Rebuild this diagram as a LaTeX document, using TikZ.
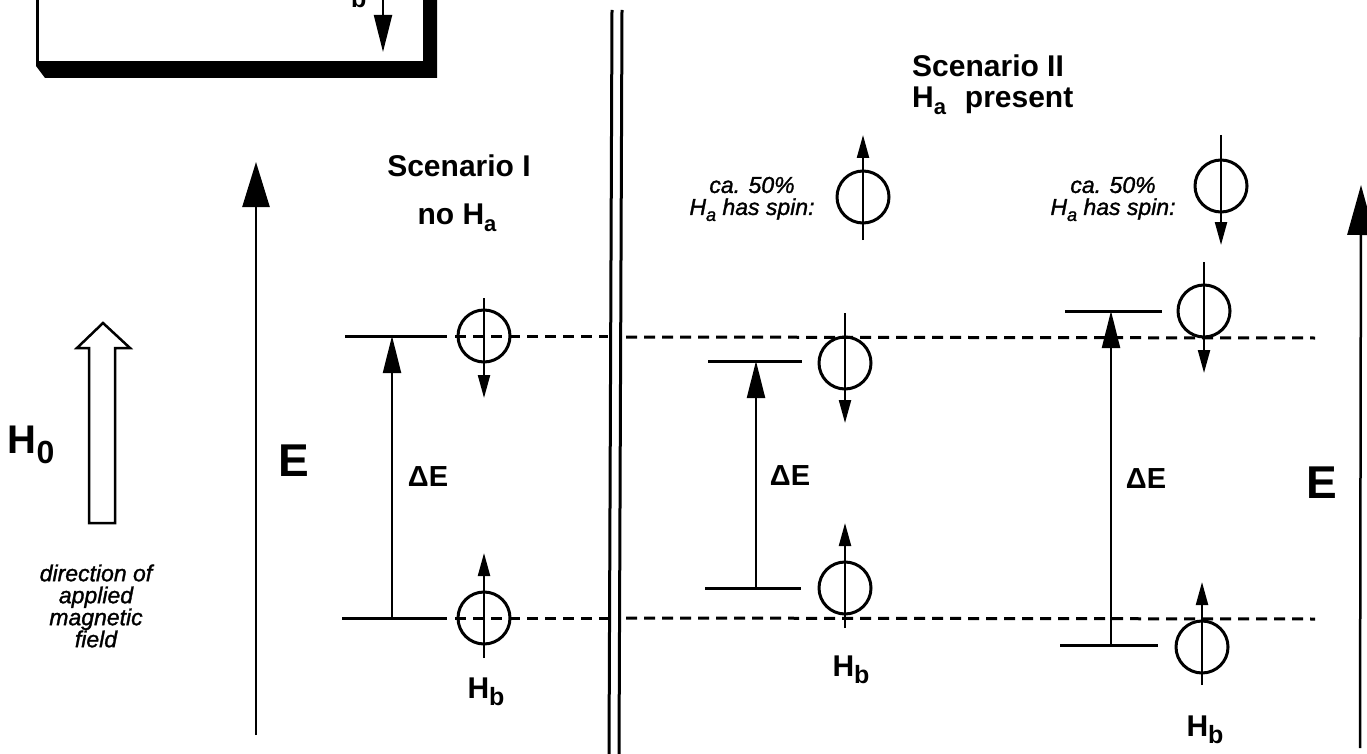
\documentclass[tikz,border=0pt]{standalone}
\usepackage{fontspec}
\setmainfont{Liberation Sans}
\newfontfamily\noteit{Liberation Sans}[ItalicFeatures={FakeBold=1.3}]
\usetikzlibrary{arrows.meta}
\newcommand\fs[1]{\fontsize{#1}{#1}\selectfont}
\newcommand\Hx[3]{H\raisebox{-#3pt}{\fontsize{#2}{#2}\selectfont #1}}
\begin{document}
\begin{tikzpicture}[x=1pt,y=-1pt,
  lvl/.style={line width=3pt},
  dsh/.style={line width=3pt, dash pattern=on 11pt off 7pt},
  spin/.style={circle, draw, line width=3pt, minimum size=52pt, inner sep=0pt},
  sarr/.style={line width=2.2pt, -{Triangle[length=23pt,width=12pt]}},
  darr/.style={line width=2.2pt, -{Triangle[length=37pt,width=18pt]}},
  axarr/.style={line width=2.5pt, -{Triangle[length=45pt,width=27pt]}},
  lab/.style={font=\bfseries\fs{30}, inner sep=0pt},
  big/.style={font=\bfseries\fs{46}, inner sep=0pt},
  de/.style={font=\bfseries\fs{29}, inner sep=0pt},
  note/.style={font=\noteit\itshape\fontsize{23}{22}\selectfont, align=center, inner sep=0pt}]
\path[use as bounding box] (0,0) rectangle (1367,754);
\begin{scope}
\clip (0,0) rectangle (1367,754);
% top-left box (cut off)
\draw[line width=3pt] (37,-10) -- (37,63) -- (423,63);
\fill (423,-10) -- (437,-10) -- (437,78) -- (45,78) -- (36,66) -- (36,63) -- (423,63) -- cycle;
\node[lab, anchor=base] (hbtop) at (348,1) {\Hx{b}{25}{7}};
\coordinate (bxa) at (383,-10);
\coordinate (bxb) at (383,52);
\draw[darr] (bxa) -- (bxb);
% double separator
\draw[line width=3pt] (612,10) -- (609,754);
\draw[line width=3pt] (622,10) -- (619,754);
% right E axis
\coordinate (ERa) at (1360,748);
\coordinate (ERb) at (1361,185);
\draw[line width=2.5pt, -{Triangle[length=50pt,width=27pt]}] (ERa) -- (ERb);
\end{scope}

% H0 hollow arrow
\draw[line width=2.5pt, line join=miter] (89,523) -- (115,523) -- (115,348) -- (130,348) -- (103,323) -- (77,348) -- (89,348) -- cycle;
\node[font=\bfseries\fs{40}, inner sep=0pt] (h0) at (31,445) {\Hx{0}{32}{10}};
\node[note] (dir) at (96,606) {direction of\\applied\\magnetic\\field};

% left E axis
\coordinate (ELa) at (256,735);
\coordinate (ELb) at (256,162);
\draw[axarr] (ELa) -- (ELb);
\node[big] (EL) at (294,461) {E};
\node[big] (ER) at (1322,483) {E};

% headers
\node[lab, anchor=base] (sc1) at (459,177) {Scenario I};
\node[lab, anchor=base] (noha) at (457,224) {no \Hx{a}{22}{7}};
\node[lab, anchor=base west] (sc2) at (912,77) {Scenario II};
\node[lab, anchor=base west] (hap) at (912,108) {\Hx{a}{22}{7}\hspace{0.35em} present};

% dashed reference lines
\coordinate (dua) at (455,336); \coordinate (dub) at (608,336);
\coordinate (duc) at (626,337); \coordinate (dud) at (1315,338);
\coordinate (dla) at (455,618); \coordinate (dlb) at (608,618);
\coordinate (dlc) at (626,618); \coordinate (dld) at (1315,619);
\draw[dsh] (dua) -- (dub); \draw[dsh] (duc) -- (dud);
\draw[dsh] (dla) -- (dlb); \draw[dsh] (dlc) -- (dld);

% Scenario I
\coordinate (l1ua) at (345,336); \coordinate (l1ub) at (447,336);
\coordinate (l1la) at (342,618); \coordinate (l1lb) at (447,618);
\draw[lvl] (l1ua) -- (l1ub);
\draw[lvl] (l1la) -- (l1lb);
\coordinate (d1l) at (392,618); \coordinate (d1u) at (392,336);
\draw[darr] (d1l) -- (d1u);
\node[de] (de1) at (428,477) {ΔE};
\node[spin] (s1u) at (484,336) {};
\draw[sarr] ([yshift=38pt]s1u.center) -- ([yshift=-62pt]s1u.center);
\node[spin] (s1l) at (484,618) {};
\draw[sarr] ([yshift=-40pt]s1l.center) -- ([yshift=65pt]s1l.center);
\node[lab] (hb1) at (486,692) {\Hx{b}{25}{7}};

% Scenario II, left column
\node[note] (ca1) at (752,199) {ca. 50\%\\\Hx{a}{18}{6} has spin:};
\node[spin] (sA) at (863,197) {};
\draw[sarr] ([yshift=-43pt]sA.center) -- ([yshift=62pt]sA.center);
\coordinate (l2ua) at (708,361); \coordinate (l2ub) at (802,361);
\coordinate (l2la) at (705,588); \coordinate (l2lb) at (801,588);
\draw[lvl] (l2ua) -- (l2ub);
\draw[lvl] (l2la) -- (l2lb);
\coordinate (d2l) at (756,588); \coordinate (d2u) at (756,361);
\draw[darr] (d2l) -- (d2u);
\node[de] (de2) at (790,476) {ΔE};
\node[spin] (s2u) at (845,363) {};
\draw[sarr] ([yshift=50pt]s2u.center) -- ([yshift=-60pt]s2u.center);
\node[spin] (s2l) at (845,588) {};
\draw[sarr] ([yshift=-40pt]s2l.center) -- ([yshift=65pt]s2l.center);
\node[lab] (hb2) at (851,670) {\Hx{b}{25}{7}};

% Scenario II, right column
\node[note] (ca2) at (1113,199) {ca. 50\%\\\Hx{a}{18}{6} has spin:};
\node[spin] (sB) at (1221,186) {};
\draw[sarr] ([yshift=51pt]sB.center) -- ([yshift=-59pt]sB.center);
\coordinate (l3ua) at (1065,311); \coordinate (l3ub) at (1162,311);
\coordinate (l3la) at (1060,645); \coordinate (l3lb) at (1158,645);
\draw[lvl] (l3ua) -- (l3ub);
\draw[lvl] (l3la) -- (l3lb);
\coordinate (d3l) at (1111,645); \coordinate (d3u) at (1111,311);
\draw[darr] (d3l) -- (d3u);
\node[de] (de3) at (1146,479) {ΔE};
\node[spin] (s3u) at (1204,311) {};
\draw[sarr] ([yshift=49pt]s3u.center) -- ([yshift=-62pt]s3u.center);
\node[spin] (s3l) at (1202,647) {};
\draw[sarr] ([yshift=-38pt]s3l.center) -- ([yshift=65pt]s3l.center);
\node[lab] (hb3) at (1205,730) {\Hx{b}{25}{7}};
\end{tikzpicture}
\end{document}
